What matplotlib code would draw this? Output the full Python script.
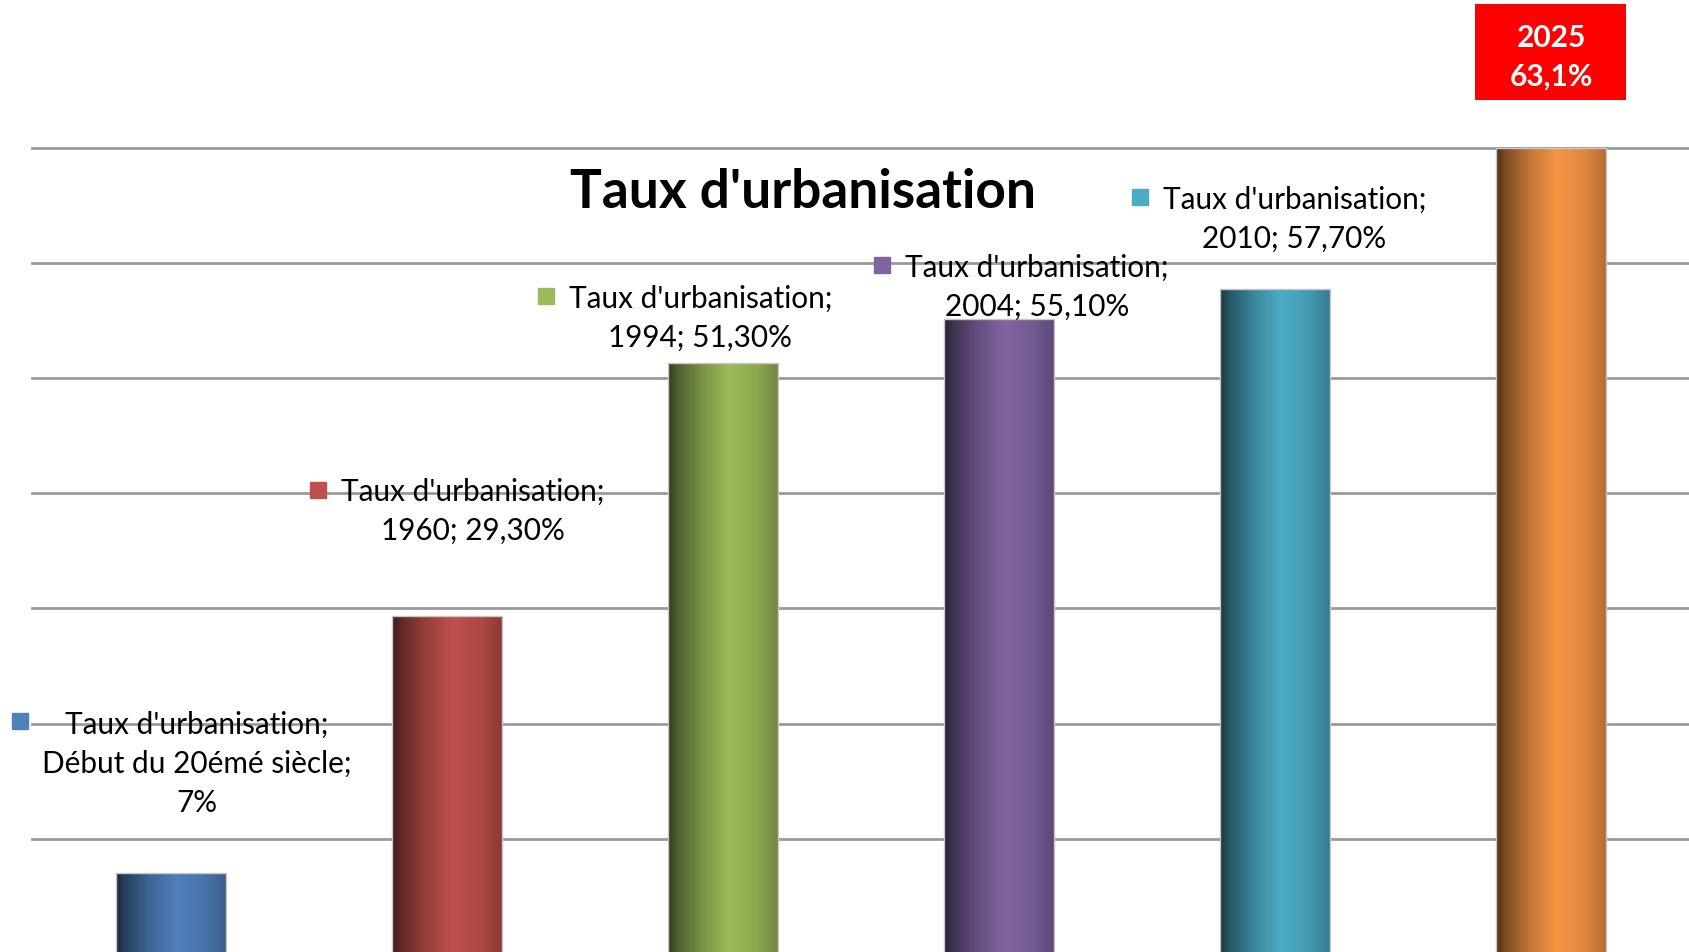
import numpy as np
import matplotlib.pyplot as plt
from matplotlib.colors import to_rgb
from matplotlib.patches import Rectangle

# data
periods = ["Début du 20émé siècle", "1960", "1994", "2004", "2010", "2025"]
rates = [7.0, 29.3, 51.3, 55.1, 57.7, 63.1]
rate_labels = ["7%", "29,30%", "51,30%", "55,10%", "57,70%", "63,1%"]
# the 2025 bar runs up to the top of the plot in the picture
bar_heights = [7.0, 29.3, 51.3, 55.1, 57.7, 72.0]
colors = ["#4F81BD", "#C0504D", "#9BBB59", "#8064A2", "#4BACC6", "#F79646"]

# label placement (data coords): text centre, marker position
label_xy = [(0.094, 16.6), (1.094, 38.5), (1.918, 55.3), (3.137, 58.0), (4.07, 63.9)]
marker_xy = [(-0.547, 20.2), (0.531, 40.3), (1.359, 57.1), (2.578, 59.8), (3.512, 65.7)]

plt.rcParams['font.family'] = ['Lato', 'DejaVu Sans']

fig = plt.figure(figsize=(16.9, 9.53), dpi=100)
ax = fig.add_axes([0.0189, -0.002, 0.9811, 0.846])
ax.set_xlim(-0.504, 5.504)
ax.set_ylim(0, 70)

for y in range(10, 80, 10):
    ax.axhline(y, color="#9a9a9a", lw=2, zorder=1, clip_on=False)

# cylinder-like shading across each bar
t = np.linspace(0, 1, 200)
shade = np.interp(t, [0, 0.08, 0.3, 0.55, 0.8, 1.0], [0.32, 0.5, 0.78, 1.0, 0.9, 0.72])
width = 0.4
for i, (h, c) in enumerate(zip(bar_heights, colors)):
    base = np.array(to_rgb(c))
    grad = np.clip(shade[:, None] * base[None, :], 0, 1)[None, :, :]
    x0 = i - width / 2
    top = min(h, 70)
    ax.imshow(grad, extent=[x0, x0 + width, 0, top], aspect='auto',
              zorder=2, interpolation='bilinear')
    ax.add_patch(Rectangle((x0, 0), width, top, fill=False,
                           edgecolor="#c8c8c8", lw=1, zorder=3))

ax.set_xlim(-0.504, 5.504)
ax.set_ylim(0, 70)

for i in range(5):
    if i == 0:
        txt = "Taux d'urbanisation;\n" + periods[i] + ";\n" + rate_labels[i]
    else:
        txt = "Taux d'urbanisation;\n" + periods[i] + "; " + rate_labels[i]
    ax.text(label_xy[i][0], label_xy[i][1], txt, ha='center', va='center',
            fontsize=21.4, linespacing=1.48, zorder=5, clip_on=False)
    ax.plot(marker_xy[i][0], marker_xy[i][1], marker='s', ms=12,
            color=colors[i], zorder=5, clip_on=False)

fig.text(0.475, 1 - 193 / 953, "Taux d'urbanisation", ha='center', va='center',
         fontsize=38.3, fontweight='bold')

fig.patches.append(Rectangle((0.8728, 0.894), 0.0893, 0.1007, transform=fig.transFigure,
                             facecolor="#ff0000", edgecolor='none'))
fig.text(0.9178, 1 - 38 / 953, periods[5], ha='center', va='center',
         fontsize=21.5, fontweight='bold', color='white')
fig.text(0.9178, 1 - 77 / 953, rate_labels[5], ha='center', va='center',
         fontsize=21.5, fontweight='bold', color='white')

ax.axis('off')
fig.savefig("out.png", dpi=100)
